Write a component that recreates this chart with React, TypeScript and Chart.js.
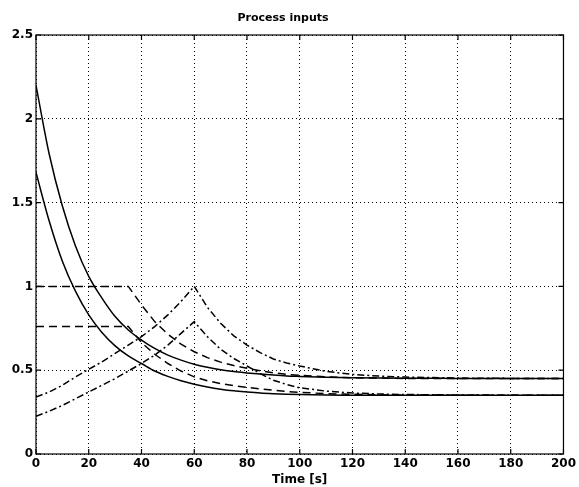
import React, { useEffect, useRef } from "react";
import { Chart, registerables } from "chart.js";

Chart.register(...registerables);

const title = "Process inputs";
const xLabel = "Time [s]";

const time = [0, 5, 10, 15, 20, 25, 30, 35, 40, 45, 50, 55, 60, 65, 70, 75, 80, 85, 90, 95, 100, 110, 120, 130, 140, 160, 180, 200];

// solid lines
const solidUpper = [2.2, 1.79, 1.48, 1.24, 1.06, 0.93, 0.82, 0.74, 0.68, 0.63, 0.59, 0.56, 0.535, 0.517, 0.503, 0.492, 0.484, 0.477, 0.471, 0.466, 0.463, 0.458, 0.455, 0.453, 0.452, 0.451, 0.45, 0.45];
const solidLower = [1.68, 1.39, 1.15, 0.97, 0.83, 0.725, 0.645, 0.585, 0.54, 0.495, 0.463, 0.437, 0.416, 0.4, 0.387, 0.377, 0.37, 0.364, 0.36, 0.357, 0.355, 0.352, 0.351, 0.35, 0.35, 0.35, 0.35, 0.35];

// dashed lines
const dashedUpper = [1.0, 1.0, 1.0, 1.0, 1.0, 1.0, 1.0, 1.0, 0.89, 0.79, 0.715, 0.655, 0.61, 0.575, 0.548, 0.528, 0.512, 0.497, 0.485, 0.475, 0.469, 0.46, 0.455, 0.453, 0.451, 0.45, 0.45, 0.45];
const dashedLower = [0.76, 0.76, 0.76, 0.76, 0.76, 0.76, 0.76, 0.76, 0.665, 0.595, 0.54, 0.495, 0.46, 0.437, 0.42, 0.408, 0.398, 0.389, 0.381, 0.373, 0.368, 0.36, 0.356, 0.353, 0.352, 0.351, 0.35, 0.35];

// dash-dot lines
const dashDotUpper = [0.34, 0.37, 0.41, 0.46, 0.505, 0.55, 0.6, 0.65, 0.7, 0.76, 0.83, 0.91, 1.0, 0.875, 0.78, 0.705, 0.65, 0.605, 0.567, 0.543, 0.525, 0.493, 0.475, 0.465, 0.459, 0.453, 0.451, 0.45];
const dashDotLower = [0.225, 0.255, 0.29, 0.33, 0.37, 0.41, 0.45, 0.495, 0.54, 0.59, 0.65, 0.72, 0.79, 0.7, 0.625, 0.57, 0.525, 0.48, 0.44, 0.415, 0.395, 0.375, 0.364, 0.358, 0.355, 0.352, 0.351, 0.35];

const xTicks = { min: 0, max: 200, step: 20 };
const yTicks = { min: 0, max: 2.5, step: 0.5 };

const FONT = "'DejaVu Sans', 'Liberation Sans', Arial, sans-serif";

const toPoints = (ys: number[]) => time.map((t, i) => ({ x: t, y: ys[i] }));

const framePlugin = {
  id: "frameTicks",
  afterDatasetsDraw(chart: any) {
    const { ctx, chartArea, scales } = chart;
    const { left, right, top, bottom } = chartArea;
    ctx.save();
    ctx.strokeStyle = "#000";
    ctx.lineWidth = 1.2;
    ctx.setLineDash([]);
    ctx.strokeRect(left, top, right - left, bottom - top);
    const len = 5;
    ctx.beginPath();
    scales.x.ticks.forEach((tk: any) => {
      const px = scales.x.getPixelForValue(tk.value);
      ctx.moveTo(px, bottom);
      ctx.lineTo(px, bottom - len);
      ctx.moveTo(px, top);
      ctx.lineTo(px, top + len);
    });
    scales.y.ticks.forEach((tk: any) => {
      const py = scales.y.getPixelForValue(tk.value);
      ctx.moveTo(left, py);
      ctx.lineTo(left + len, py);
      ctx.moveTo(right, py);
      ctx.lineTo(right - len, py);
    });
    ctx.stroke();
    ctx.restore();
  },
};

export default function App() {
  const canvasRef = useRef<HTMLCanvasElement | null>(null);

  useEffect(() => {
    if (!canvasRef.current) return;
    const solid: number[] = [];
    const dashed = [8, 5];
    const dashDot = [7, 3, 2, 3];
    const mk = (data: number[], dash: number[], smooth: boolean) => ({
      data: toPoints(data),
      borderColor: "#000",
      borderWidth: 1.5,
      borderDash: dash,
      pointRadius: 0,
      fill: false,
      tension: 0,
      cubicInterpolationMode: smooth ? ("monotone" as const) : ("default" as const),
    });
    const fmt = (v: any) => String(Number(v));
    const chart = new Chart(canvasRef.current, {
      type: "line",
      data: {
        datasets: [
          mk(solidUpper, solid, true),
          mk(solidLower, solid, true),
          mk(dashedUpper, dashed, false),
          mk(dashedLower, dashed, false),
          mk(dashDotUpper, dashDot, false),
          mk(dashDotLower, dashDot, false),
        ],
      },
      options: {
        responsive: false,
        animation: false,
        layout: { padding: { left: 0, right: 13, top: 0, bottom: 0 } },
        plugins: {
          legend: { display: false },
          tooltip: { enabled: false },
          title: {
            display: true,
            text: title,
            color: "#000",
            font: { family: FONT, size: 11, weight: "bold", lineHeight: 1.2 },
            padding: { top: 11.7, bottom: 10.1 },
          },
        },
        scales: {
          x: {
            type: "linear",
            min: xTicks.min,
            max: xTicks.max,
            afterFit: (s: any) => {
              s.height = 33;
            },
            ticks: {
              stepSize: xTicks.step,
              color: "#000",
              padding: 3,
              maxRotation: 0,
              callback: fmt,
              font: { family: FONT, size: 12, weight: "bold" },
            },
            grid: { color: "#000", lineWidth: 1, drawTicks: false },
            border: { display: false, dash: [1, 3] },
            title: {
              display: true,
              text: xLabel,
              color: "#000",
              padding: { top: 0, bottom: 0 },
              font: { family: FONT, size: 12, weight: "bold", lineHeight: 1.2 },
            },
          },
          y: {
            type: "linear",
            min: yTicks.min,
            max: yTicks.max,
            afterFit: (s: any) => {
              s.width = 36;
            },
            ticks: {
              stepSize: yTicks.step,
              color: "#000",
              padding: 3,
              callback: fmt,
              font: { family: FONT, size: 12, weight: "bold" },
            },
            grid: { color: "#000", lineWidth: 1, drawTicks: false },
            border: { display: false, dash: [1, 3] },
          },
        },
      },
      plugins: [framePlugin],
    });
    return () => chart.destroy();
  }, []);

  return (
    <div style={{ position: "absolute", left: 0, top: 0, width: 579, height: 487, background: "#fff" }}>
      <canvas ref={canvasRef} width={579} height={487} />
    </div>
  );
}
